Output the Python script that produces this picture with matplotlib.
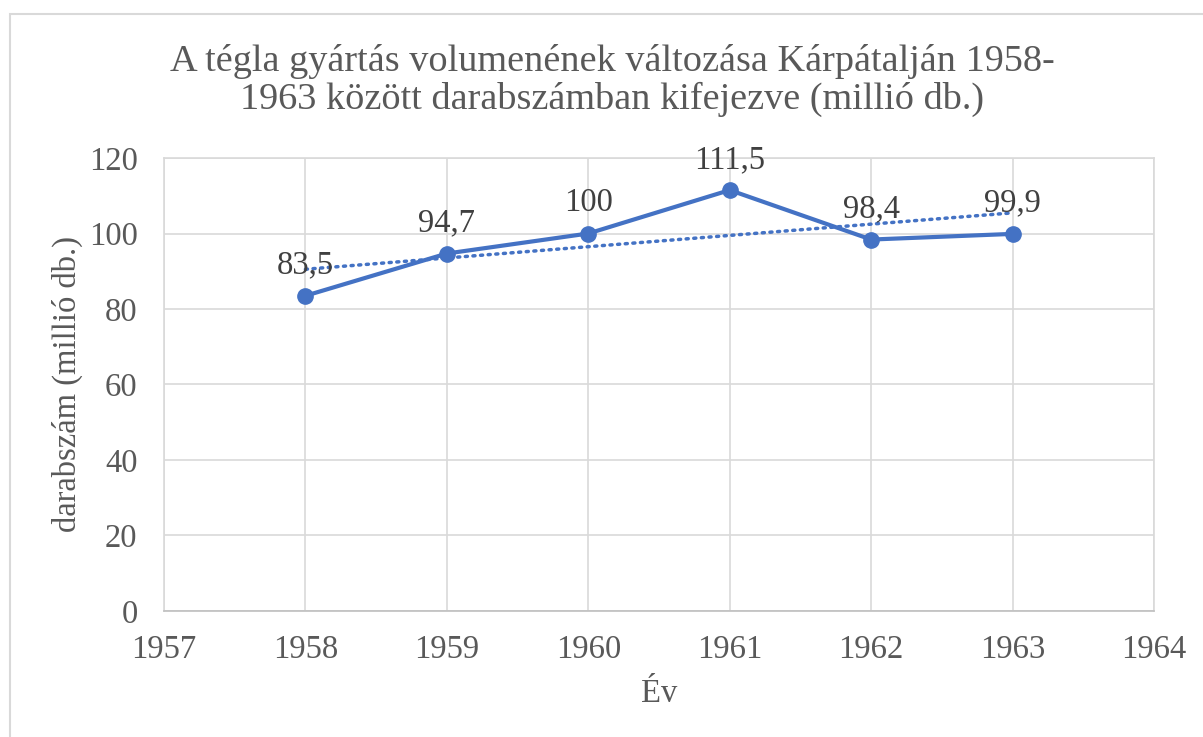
import matplotlib.pyplot as plt
import numpy as np
from matplotlib.patches import Rectangle

years = [1958, 1959, 1960, 1961, 1962, 1963]
values = [83.5, 94.7, 100, 111.5, 98.4, 99.9]
labels = ["83,5", "94,7", "100", "111,5", "98,4", "99,9"]

plt.rcParams['font.family'] = ['Liberation Serif', 'DejaVu Serif']

fig = plt.figure(figsize=(12.03, 7.37), dpi=100)
ax = fig.add_axes([0.1363, 0.171, 0.823, 0.6146])

blue = "#4472C4"
grey = "#595959"

# chart border
fig.patches.append(Rectangle((10 / 1203, -0.05), 1.2, 0.05 + 1 - 14 / 737,
                             transform=fig.transFigure, fill=False,
                             edgecolor="#D9D9D9", linewidth=1.5))

ax.plot(years, values, color=blue, linewidth=3, marker="o", markersize=11, zorder=3)

# linear trend line
coef = np.polyfit(years, values, 1)
trend = np.polyval(coef, years)
ax.plot(years, trend, color=blue, linewidth=2.5, linestyle=(0, (0.6, 1.6)),
        dash_capstyle="round", zorder=2)

for x, y, t in zip(years, values, labels):
    ax.annotate(t, (x, y), xytext=(0, 11), textcoords="offset points",
                ha="center", va="bottom", fontsize=23.5, color="#404040")

ax.set_xlim(1957, 1964)
ax.set_ylim(0, 120)
ax.set_xticks(range(1957, 1965))
ax.set_yticks(range(0, 121, 20))
ax.grid(True, color="#D9D9D9", linewidth=1.2)
ax.set_axisbelow(True)
for s in ax.spines.values():
    s.set_color("#D9D9D9")
    s.set_linewidth(1.2)
ax.spines["bottom"].set_color("#BFBFBF")
ax.tick_params(length=0, labelsize=23.5, labelcolor=grey)
ax.tick_params(axis="y", pad=19)
ax.tick_params(axis="x", pad=17)

ax.set_xlabel("Év", fontsize=23.5, color=grey, labelpad=10)
ax.set_ylabel("darabszám (millió db.)", fontsize=23.5, color=grey, labelpad=4)

fig.text(0.509, 0.891, "A tégla gyártás volumenének változása Kárpátalján 1958-\n"
         "1963 között darabszámban kifejezve (millió db.)",
         ha="center", va="center", fontsize=27.5, color=grey, linespacing=1.12)

fig.savefig("out.png", dpi=100)
